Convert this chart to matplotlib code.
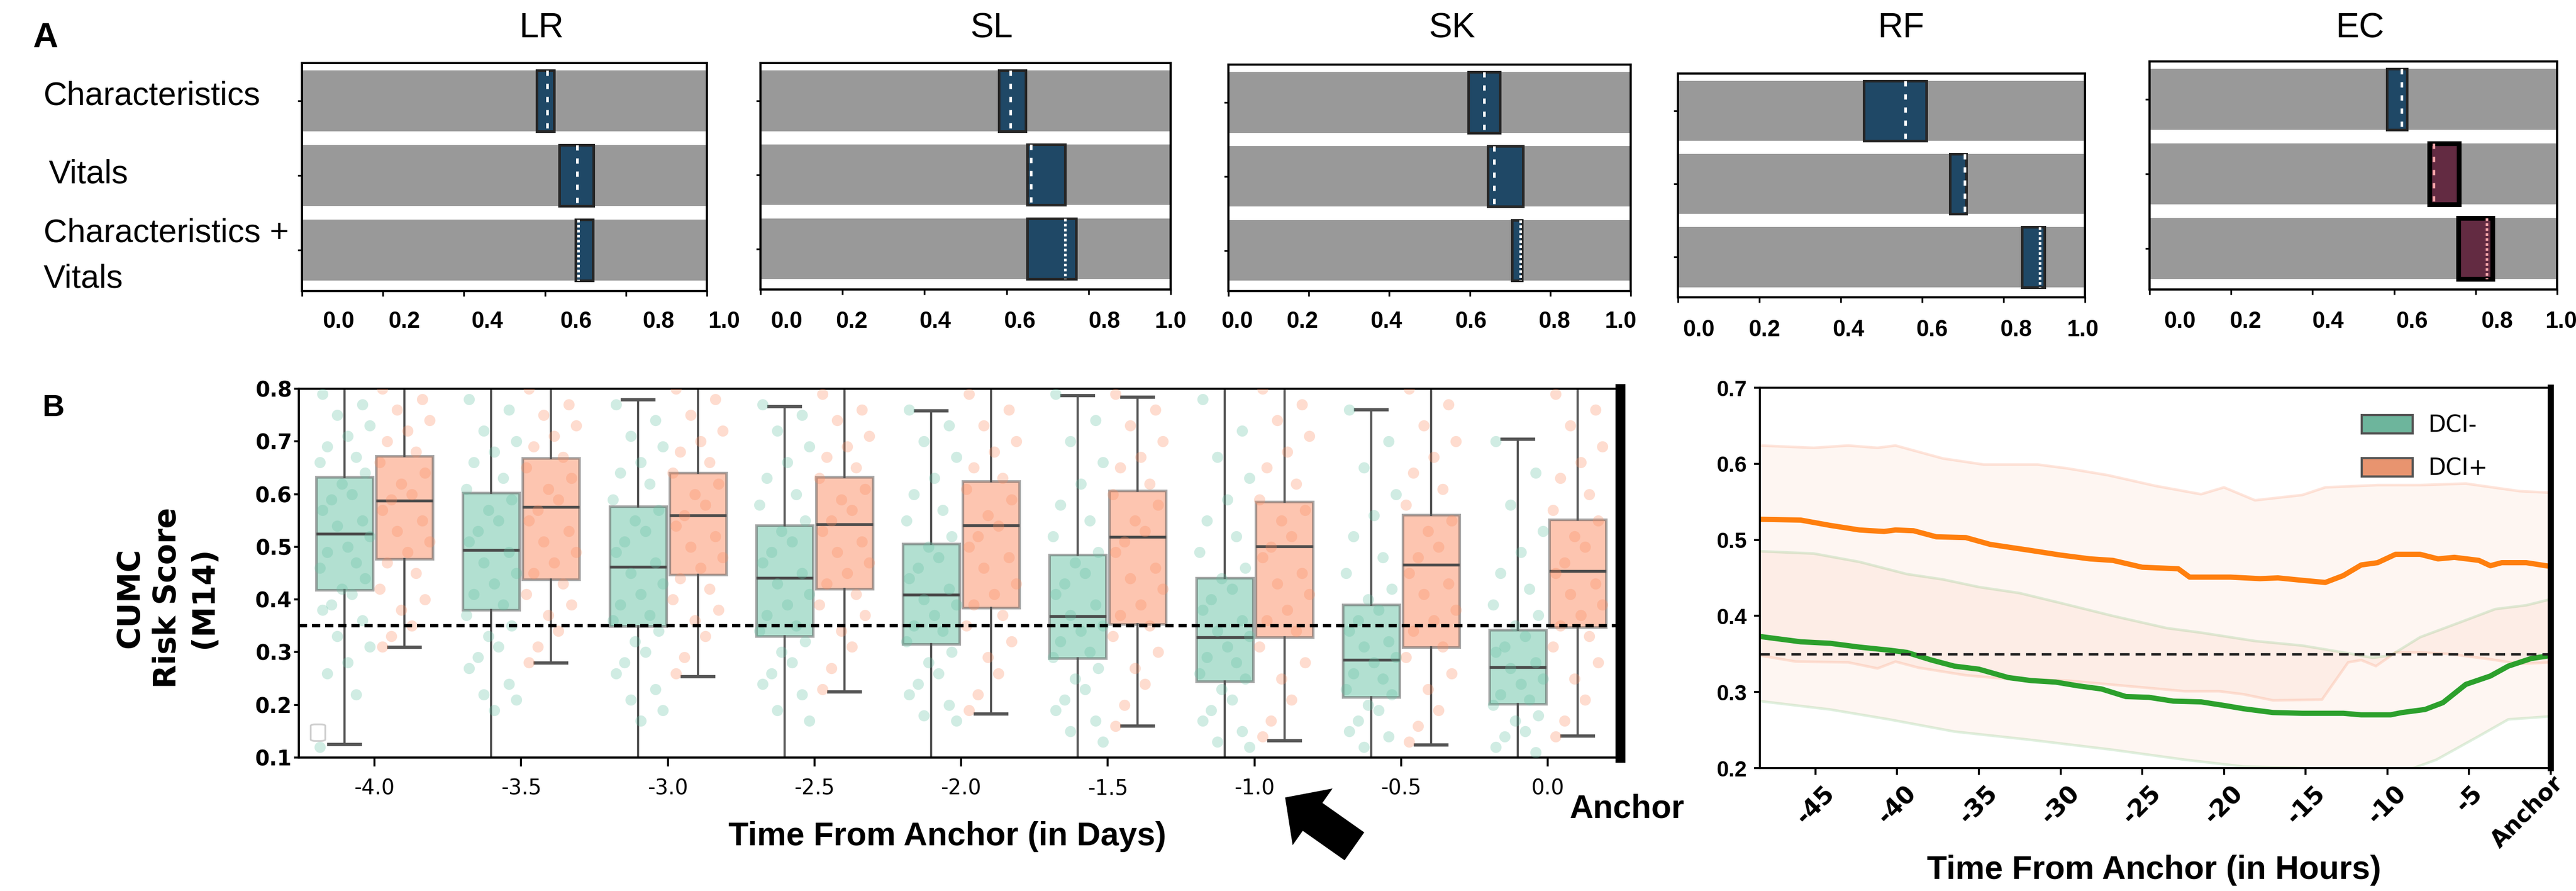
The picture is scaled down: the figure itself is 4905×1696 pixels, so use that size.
import numpy as np
import matplotlib.pyplot as plt
from matplotlib.patches import FancyArrow, FancyBboxPatch, Patch

plt.rcParams['font.family'] = ['Liberation Sans', 'DejaVu Sans']

W, H = 4905, 1696

# ---------------- panel A data ----------------
models = ['LR', 'SL', 'SK', 'RF', 'EC']
feature_sets = ['Characteristics', 'Vitals', 'Characteristics +\nVitals']
auc_lo = {'LR': [0.580, 0.636, 0.676], 'SL': [0.581, 0.651, 0.650], 'SK': [0.597, 0.645, 0.705],
          'RF': [0.457, 0.668, 0.845], 'EC': [0.582, 0.687, 0.758]}
auc_hi = {'LR': [0.622, 0.720, 0.718], 'SL': [0.647, 0.743, 0.769], 'SK': [0.675, 0.733, 0.730],
          'RF': [0.610, 0.708, 0.900], 'EC': [0.632, 0.759, 0.841]}
auc_mid = {'LR': [0.606, 0.680, 0.682], 'SL': [0.610, 0.659, 0.743], 'SK': [0.636, 0.660, 0.726],
           'RF': [0.559, 0.704, 0.889], 'EC': [0.618, 0.697, 0.827]}
top_ticks = [0.0, 0.2, 0.4, 0.6, 0.8, 1.0]

# ---------------- panel B (boxes) data ----------------
days = ['-4.0', '-3.5', '-3.0', '-2.5', '-2.0', '-1.5', '-1.0', '-0.5', '0.0']
# whislo, q1, med, q3, whishi  (0.05 / 0.9 = whisker runs off the axis)
neg_box = [[0.125, 0.418, 0.525, 0.632, 0.90], [0.05, 0.380, 0.494, 0.603, 0.90],
           [0.05, 0.349, 0.462, 0.577, 0.779], [0.05, 0.330, 0.441, 0.541, 0.766],
           [0.05, 0.315, 0.409, 0.506, 0.758], [0.05, 0.288, 0.368, 0.485, 0.787],
           [0.05, 0.245, 0.328, 0.441, 0.90], [0.05, 0.215, 0.285, 0.390, 0.760],
           [0.05, 0.202, 0.272, 0.342, 0.704]]
pos_box = [[0.309, 0.477, 0.588, 0.672, 0.90], [0.279, 0.438, 0.576, 0.668, 0.90],
           [0.254, 0.447, 0.560, 0.640, 0.90], [0.225, 0.420, 0.543, 0.632, 0.90],
           [0.183, 0.384, 0.541, 0.625, 0.90], [0.160, 0.353, 0.519, 0.607, 0.784],
           [0.132, 0.328, 0.501, 0.586, 0.90], [0.124, 0.309, 0.466, 0.561, 0.90],
           [0.141, 0.347, 0.454, 0.552, 0.90]]
neg_pts = [
    [0.79, 0.77, 0.75, 0.73, 0.71, 0.69, 0.67, 0.66, 0.64, 0.62, 0.60, 0.59, 0.57, 0.55, 0.54, 0.52,
     0.50, 0.49, 0.47, 0.46, 0.44, 0.42, 0.41, 0.39, 0.38, 0.36, 0.33, 0.31, 0.28, 0.26, 0.22, 0.12],
    [0.78, 0.76, 0.72, 0.70, 0.68, 0.66, 0.63, 0.61, 0.59, 0.57, 0.55, 0.53, 0.51, 0.49, 0.47, 0.45,
     0.43, 0.41, 0.39, 0.37, 0.35, 0.33, 0.31, 0.29, 0.27, 0.24, 0.22, 0.21, 0.19],
    [0.77, 0.74, 0.71, 0.69, 0.66, 0.64, 0.62, 0.59, 0.57, 0.55, 0.53, 0.51, 0.49, 0.47, 0.45, 0.43,
     0.41, 0.39, 0.37, 0.36, 0.34, 0.32, 0.30, 0.28, 0.26, 0.23, 0.21, 0.19, 0.17],
    [0.77, 0.75, 0.72, 0.69, 0.66, 0.63, 0.60, 0.58, 0.55, 0.53, 0.51, 0.49, 0.47, 0.45, 0.43, 0.41,
     0.39, 0.37, 0.35, 0.34, 0.32, 0.30, 0.28, 0.26, 0.24, 0.22, 0.19, 0.17],
    [0.76, 0.73, 0.70, 0.67, 0.63, 0.60, 0.57, 0.55, 0.52, 0.50, 0.48, 0.46, 0.44, 0.42, 0.40, 0.39,
     0.37, 0.35, 0.34, 0.32, 0.30, 0.28, 0.26, 0.24, 0.22, 0.20, 0.18, 0.17],
    [0.79, 0.74, 0.70, 0.66, 0.62, 0.58, 0.55, 0.52, 0.49, 0.47, 0.45, 0.43, 0.41, 0.39, 0.37, 0.35,
     0.34, 0.32, 0.30, 0.29, 0.27, 0.25, 0.23, 0.21, 0.19, 0.17, 0.15, 0.13],
    [0.78, 0.72, 0.67, 0.63, 0.59, 0.55, 0.52, 0.49, 0.46, 0.44, 0.42, 0.40, 0.38, 0.36, 0.34, 0.33,
     0.31, 0.29, 0.28, 0.26, 0.25, 0.23, 0.21, 0.19, 0.17, 0.15, 0.13, 0.12],
    [0.76, 0.70, 0.65, 0.60, 0.56, 0.52, 0.48, 0.45, 0.42, 0.40, 0.38, 0.36, 0.34, 0.32, 0.31, 0.29,
     0.28, 0.26, 0.25, 0.23, 0.22, 0.20, 0.19, 0.17, 0.15, 0.14, 0.12],
    [0.70, 0.64, 0.58, 0.53, 0.49, 0.45, 0.42, 0.39, 0.37, 0.35, 0.33, 0.31, 0.30, 0.28, 0.27, 0.25,
     0.24, 0.22, 0.21, 0.20, 0.18, 0.17, 0.15, 0.14, 0.12, 0.11],
]
pos_pts = [
    [0.80, 0.78, 0.76, 0.74, 0.72, 0.70, 0.68, 0.66, 0.64, 0.62, 0.60, 0.59, 0.57, 0.55, 0.53, 0.51,
     0.49, 0.47, 0.45, 0.42, 0.40, 0.38, 0.35, 0.33, 0.31],
    [0.80, 0.77, 0.75, 0.73, 0.71, 0.69, 0.67, 0.65, 0.63, 0.61, 0.59, 0.57, 0.55, 0.53, 0.51, 0.49,
     0.47, 0.45, 0.43, 0.41, 0.39, 0.37, 0.34, 0.31, 0.28],
    [0.80, 0.78, 0.75, 0.72, 0.70, 0.68, 0.66, 0.64, 0.62, 0.60, 0.58, 0.56, 0.54, 0.52, 0.50, 0.48,
     0.46, 0.44, 0.42, 0.40, 0.38, 0.36, 0.33, 0.29, 0.26],
    [0.79, 0.76, 0.74, 0.71, 0.69, 0.67, 0.65, 0.63, 0.61, 0.59, 0.57, 0.55, 0.53, 0.51, 0.49, 0.47,
     0.45, 0.43, 0.41, 0.39, 0.37, 0.34, 0.31, 0.27, 0.23],
    [0.79, 0.76, 0.73, 0.70, 0.68, 0.65, 0.63, 0.61, 0.59, 0.56, 0.54, 0.52, 0.50, 0.48, 0.46, 0.43,
     0.41, 0.39, 0.37, 0.35, 0.32, 0.29, 0.26, 0.22, 0.19],
    [0.79, 0.76, 0.73, 0.70, 0.67, 0.65, 0.62, 0.60, 0.58, 0.55, 0.53, 0.51, 0.49, 0.46, 0.44, 0.42,
     0.39, 0.37, 0.35, 0.33, 0.30, 0.27, 0.24, 0.20, 0.16],
    [0.80, 0.77, 0.74, 0.71, 0.68, 0.65, 0.62, 0.59, 0.57, 0.55, 0.52, 0.50, 0.48, 0.45, 0.43, 0.41,
     0.38, 0.36, 0.34, 0.31, 0.28, 0.25, 0.21, 0.17, 0.14],
    [0.80, 0.77, 0.73, 0.70, 0.67, 0.64, 0.61, 0.58, 0.55, 0.53, 0.50, 0.48, 0.45, 0.43, 0.41, 0.38,
     0.36, 0.34, 0.31, 0.29, 0.26, 0.23, 0.19, 0.16, 0.13],
    [0.79, 0.76, 0.73, 0.69, 0.66, 0.63, 0.60, 0.57, 0.55, 0.52, 0.50, 0.47, 0.45, 0.43, 0.41, 0.39,
     0.37, 0.35, 0.33, 0.31, 0.28, 0.25, 0.21, 0.17, 0.14],
]
threshold = 0.35

# ---------------- panel B (hours) data ----------------
pos_mean_t = [-48.4, -45.9, -44.1, -42.3, -40.8, -40.1, -39.0, -37.6, -35.8, -34.3, -31.8, -30.0, -28.2,
              -26.8, -25.0, -22.8, -22.1, -19.6, -17.8, -16.7, -15.3, -13.8, -12.7, -11.6, -10.6, -9.5,
              -8.0, -6.9, -5.9, -4.4, -3.7, -3.0, -1.5, 0.0]
pos_mean = [0.527, 0.526, 0.519, 0.513, 0.511, 0.513, 0.512, 0.504, 0.503, 0.494, 0.486, 0.480, 0.475,
            0.473, 0.464, 0.462, 0.451, 0.451, 0.449, 0.450, 0.447, 0.444, 0.453, 0.467, 0.470, 0.481,
            0.481, 0.475, 0.477, 0.473, 0.466, 0.470, 0.470, 0.465]
pos_hi_t = [-48.4, -45.1, -43.0, -41.2, -40.1, -37.2, -34.7, -31.4, -29.6, -27.1, -24.2, -21.4, -20.0,
            -18.1, -15.2, -13.8, -10.6, -8.0, -5.2, -1.9, 0.0]
pos_hi = [0.624, 0.621, 0.624, 0.621, 0.624, 0.607, 0.599, 0.599, 0.594, 0.585, 0.571, 0.560, 0.569,
          0.552, 0.559, 0.569, 0.572, 0.572, 0.574, 0.564, 0.562]
pos_lo_t = [-48.4, -46.2, -43.0, -41.2, -40.1, -38.7, -35.8, -33.2, -29.6, -26.0, -22.4, -20.3, -18.8,
            -17.0, -14.0, -12.4, -11.6, -10.7, -9.5, -8.0, -6.2, -3.7, -1.9, 0.0]
pos_lo = [0.348, 0.340, 0.339, 0.331, 0.340, 0.332, 0.322, 0.317, 0.315, 0.308, 0.301, 0.301, 0.297,
          0.289, 0.290, 0.339, 0.342, 0.334, 0.352, 0.352, 0.350, 0.343, 0.337, 0.339]
neg_mean_t = [-48.4, -45.9, -44.1, -42.3, -40.5, -39.4, -37.9, -36.5, -35.0, -33.2, -31.8, -30.3, -28.9,
              -27.5, -26.0, -24.6, -23.1, -21.4, -19.9, -18.8, -17.0, -15.2, -12.7, -11.6, -9.8, -9.1,
              -7.7, -6.6, -5.2, -3.7, -2.6, -1.2, 0.0]
neg_mean = [0.373, 0.366, 0.364, 0.359, 0.355, 0.352, 0.342, 0.334, 0.330, 0.319, 0.315, 0.313, 0.308,
            0.304, 0.294, 0.293, 0.288, 0.287, 0.282, 0.278, 0.273, 0.272, 0.272, 0.270, 0.270, 0.273,
            0.277, 0.286, 0.310, 0.321, 0.334, 0.344, 0.348]
neg_hi_t = [-48.4, -45.1, -42.3, -39.4, -37.2, -35.0, -32.5, -30.0, -26.8, -23.5, -21.4, -18.1, -15.2,
            -12.7, -10.9, -9.8, -8.0, -5.5, -3.4, -1.5, 0.0]
neg_hi = [0.485, 0.482, 0.471, 0.455, 0.448, 0.438, 0.430, 0.417, 0.400, 0.384, 0.378, 0.367, 0.361,
          0.352, 0.345, 0.348, 0.372, 0.392, 0.409, 0.414, 0.422]
neg_lo_t = [-48.4, -44.1, -40.5, -36.5, -31.8, -26.8, -22.4, -18.8, -15.2, -11.6, -8.4, -7.0, -4.4, -2.6, 0.0]
neg_lo = [0.288, 0.277, 0.264, 0.248, 0.237, 0.224, 0.211, 0.202, 0.200, 0.193, 0.200, 0.211, 0.242,
          0.264, 0.268]
hour_ticks = [-45, -40, -35, -30, -25, -20, -15, -10, -5, 0]
hour_labels = ['-45', '-40', '-35', '-30', '-25', '-20', '-15', '-10', '-5', 'Anchor']

# colours
NAVY = '#1f4866'
MAROON = '#632b42'
GREEN = '#66c2a5'
ORANGE = '#fc8d62'

fig = plt.figure(figsize=(W / 300, H / 300), dpi=300)


def ax_px(l, t, r, b):
    return fig.add_axes([l / W, 1 - b / H, (r - l) / W, (b - t) / H])


# ---------------- row A ----------------
top_boxes = {'LR': (575, 120, 1346, 554), 'SL': (1448, 120, 2229, 551), 'SK': (2339, 123, 3105, 554),
             'RF': (3195, 140, 3970, 566), 'EC': (4093, 117, 4869, 551)}
title_x = {'LR': 1031, 'SL': 1888, 'SK': 2764, 'RF': 3620, 'EC': 4494}
lab_frac = {'LR': [0.09, 0.253, 0.457, 0.676, 0.88, 1.042], 'SL': [0.063, 0.222, 0.426, 0.632, 0.838, 1.0],
            'SK': [0.022, 0.183, 0.393, 0.603, 0.81, 0.975], 'RF': [0.051, 0.212, 0.419, 0.624, 0.831, 0.994],
            'EC': [0.074, 0.235, 0.437, 0.644, 0.852, 1.01]}
lab_y = {'LR': 612, 'SL': 612, 'SK': 612, 'RF': 629, 'EC': 612}

rows = np.arange(len(feature_sets))
bh = 0.82
for m in models:
    ax = ax_px(*top_boxes[m])
    ax.barh(rows, [1.0] * 3, left=0, height=bh, color='#999999', zorder=1)
    lo = np.array(auc_lo[m])
    hi = np.array(auc_hi[m])
    for i in rows:
        if m == 'EC' and i > 0:
            fc, ec, lw, dc = MAROON, 'black', 2.2, '#f4a3a8'
        else:
            fc, ec, lw, dc = NAVY, '#262626', 1.2, 'white'
        ax.barh(i, hi[i] - lo[i], left=lo[i], height=bh, color=fc, edgecolor=ec, linewidth=lw, zorder=2)
        ls = (0, (2, 3)) if i < 2 else (0, (1, 0.9))
        ax.plot([auc_mid[m][i]] * 2, [i - bh / 2, i + bh / 2], color=dc, lw=1.2, ls=ls, zorder=3)
    ax.set_xlim(0, 1)
    ax.set_ylim(2.55, -0.51)
    ax.set_xticks(top_ticks)
    ax.set_xticklabels([])
    ax.set_yticks(rows)
    ax.set_yticklabels([])
    ax.tick_params(axis='x', length=2.5, width=0.8)
    ax.tick_params(axis='y', length=2.0, width=0.8)
    for s in ax.spines.values():
        s.set_linewidth(1.0)

# ---------------- row B left: boxes ----------------
axb = ax_px(569, 740, 3085, 1442)
xpos = np.arange(len(days))
off = 0.204
bw = 0.387
jit = [-0.15, 0.12, -0.05, 0.17, 0.02, -0.12, 0.08, -0.17, 0.14, -0.02, 0.05, -0.09]


def stats_of(rowv):
    return [dict(whislo=r[0], q1=r[1], med=r[2], q3=r[3], whishi=r[4], fliers=[]) for r in rowv]


for data, pts, sign, col in [(neg_box, neg_pts, -1, GREEN), (pos_box, pos_pts, 1, ORANGE)]:
    axb.bxp(stats_of(data), positions=xpos + sign * off, widths=bw, capwidths=0.215,
            patch_artist=True, showfliers=False, manage_ticks=False,
            boxprops=dict(facecolor=col, alpha=0.5, edgecolor='#555555', linewidth=1.2),
            medianprops=dict(color='#4a4a4a', linewidth=1.3),
            whiskerprops=dict(color='#555555', linewidth=1.0),
            capprops=dict(color='#555555', linewidth=1.5), zorder=2)
    for k, yv in enumerate(pts):
        xs = [xpos[k] + sign * off + jit[j % len(jit)] for j in range(len(yv))]
        axb.scatter(xs, yv, s=26, color=col, alpha=0.3, linewidths=0, zorder=3)

axb.axhline(threshold, color='black', lw=1.5, ls=(0, (2.5, 1.5)), zorder=4)
axb.set_xlim(-0.516, 8.494)
axb.set_ylim(0.1, 0.8)
axb.set_xticks(xpos)
axb.set_xticklabels(days, fontsize=9.5, family='DejaVu Sans')
axb.set_yticks([0.1, 0.2, 0.3, 0.4, 0.5, 0.6, 0.7, 0.8])
axb.set_yticklabels(['0.1', '0.2', '0.3', '0.4', '0.5', '0.6', '0.7', '0.8'], fontsize=9.5,
                    fontweight='bold', family='DejaVu Sans')
axb.tick_params(axis='x', length=4, width=0.9, pad=5.5)
axb.tick_params(axis='y', length=2.2, width=0.9, pad=1)
for s in ['left', 'bottom', 'top']:
    axb.spines[s].set_linewidth(1.0)
axb.spines['right'].set_linewidth(4.5)
axb.add_patch(FancyBboxPatch((0.009, 0.045), 0.011, 0.045, boxstyle='round,pad=0,rounding_size=0.004',
                             transform=axb.transAxes, fc='none', ec='#cfcfcf', lw=0.8, zorder=5))

# ---------------- row B right: hours ----------------
axh = ax_px(3351, 738, 4857, 1462)
axh.fill(np.r_[pos_hi_t, pos_lo_t[::-1]], np.r_[pos_hi, pos_lo[::-1]], color=ORANGE, alpha=0.08, lw=0)
axh.fill(np.r_[neg_hi_t, neg_lo_t[::-1]], np.r_[neg_hi, neg_lo[::-1]], color=ORANGE, alpha=0.08, lw=0)
axh.plot(pos_hi_t, pos_hi, color=ORANGE, alpha=0.22, lw=1.2)
axh.plot(pos_lo_t, pos_lo, color=ORANGE, alpha=0.22, lw=1.2)
axh.plot(neg_hi_t, neg_hi, color='#2ca02c', alpha=0.15, lw=1.2)
axh.plot(neg_lo_t, neg_lo, color='#2ca02c', alpha=0.15, lw=1.2)
axh.plot(pos_mean_t, pos_mean, color='#ff7f0e', lw=2.4)
axh.plot(neg_mean_t, neg_mean, color='#2ca02c', lw=2.4)
axh.axhline(threshold, color='#222222', lw=1.1, ls=(0, (4, 2.5)))
axh.set_xlim(-48.4, 0)
axh.set_ylim(0.2, 0.7)
axh.set_xticks(hour_ticks)
# last label ("Anchor") is drawn separately below so that it stays inside the picture
axh.set_xticklabels(hour_labels[:-1] + [''], rotation=45, fontsize=11, fontweight='bold',
                    family='DejaVu Sans')
axh.set_yticks([0.2, 0.3, 0.4, 0.5, 0.6, 0.7])
axh.set_yticklabels(['0.2', '0.3', '0.4', '0.5', '0.6', '0.7'], fontsize=10, fontweight='bold')
axh.tick_params(axis='x', length=3, width=0.9, pad=3)
axh.tick_params(axis='y', length=2.6, width=0.9, pad=3.4)
for s in ['left', 'bottom', 'top']:
    axh.spines[s].set_linewidth(0.9)
axh.spines['right'].set_linewidth(2.8)
handles = [Patch(facecolor='#6db59c', edgecolor='#555555', label='DCI-'),
           Patch(facecolor='#e8946f', edgecolor='#555555', label='DCI+')]
axh.legend(handles=handles, loc='upper left', bbox_to_anchor=(0.735, 0.985), frameon=False,
           prop={'family': 'DejaVu Sans', 'size': 10.5}, handlelength=2.2, handleheight=0.85,
           labelspacing=0.9, handletextpad=0.7)

# ---------------- overlay texts ----------------
ov = fig.add_axes([0, 0, 1, 1])
ov.set_xlim(0, W)
ov.set_ylim(H, 0)
ov.axis('off')
ov.patch.set_alpha(0)

ov.text(62, 73, 'A', fontsize=16, fontweight='bold', ha='left', va='center')
ov.text(80, 777, 'B', fontsize=14, fontweight='bold', ha='left', va='center')
for m in models:
    ov.text(title_x[m], 54, m, fontsize=16, ha='center', va='center')
    l, t, r, b = top_boxes[m]
    for fr, tv in zip(lab_frac[m], top_ticks):
        ov.text(l + fr * (r - l), lab_y[m], f'{tv:.1f}', fontsize=10.5, fontweight='bold',
                ha='center', va='center')

ov.text(83, 183, 'Characteristics', fontsize=15, ha='left', va='center')
ov.text(93, 332, 'Vitals', fontsize=15, ha='left', va='center')
ov.text(83, 444, 'Characteristics +', fontsize=15, ha='left', va='center')
ov.text(83, 531, 'Vitals', fontsize=15, ha='left', va='center')

ov.text(318, 1138, 'CUMC\nRisk Score\n(M14)', rotation=90, fontsize=14, fontweight='bold',
        family='DejaVu Sans', ha='center', va='center', multialignment='center', linespacing=1.3)
ov.text(1804, 1593, 'Time From Anchor (in Days)', fontsize=15, fontweight='bold', ha='center', va='center')
ov.text(2988, 1540, 'Anchor', fontsize=15, fontweight='bold', ha='left', va='center')
ov.text(4101, 1657, 'Time From Anchor (in Hours)', fontsize=15, fontweight='bold', ha='center', va='center')
ov.text(4812, 1545, hour_labels[-1], rotation=45, fontsize=10.5, fontweight='bold',
        family='DejaVu Sans', ha='center', va='center')

ov.add_patch(FancyArrow(2579, 1611, -132, -93, width=65, head_width=132, head_length=64,
                        length_includes_head=True, color='black', lw=0))

fig.savefig('out.png', dpi=300)
